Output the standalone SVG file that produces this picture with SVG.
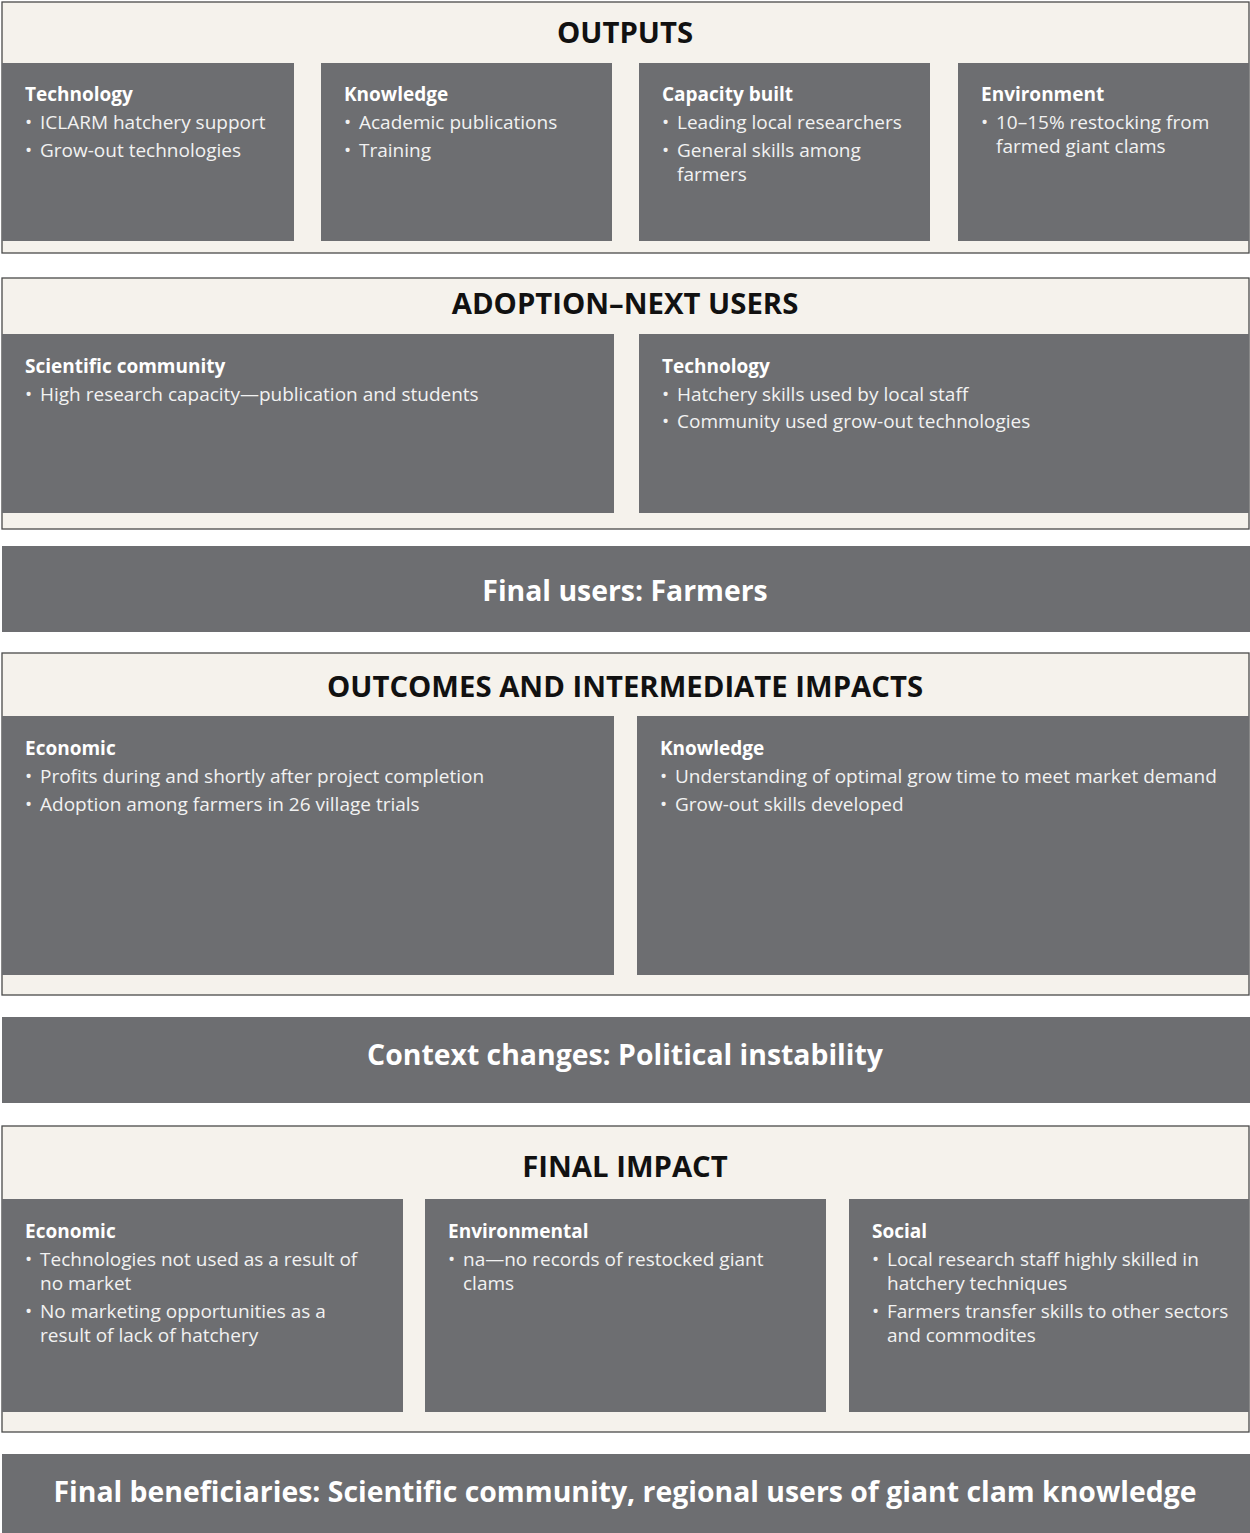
<svg xmlns="http://www.w3.org/2000/svg" width="1250" height="1533" viewBox="0 0 1250 1533">
<style>
.frame{fill:#f5f2ec;stroke:#4a4a4a;stroke-width:1.3}
.box{fill:#6d6e71}
.title{font-family:"Open Sans","Liberation Sans",sans-serif;font-weight:700;font-size:29.3px;fill:#111;text-anchor:middle}
.bar{font-family:"Open Sans","Liberation Sans",sans-serif;font-weight:700;font-size:28.4px;fill:#fff;text-anchor:middle}
.h{font-family:"Open Sans","Liberation Sans",sans-serif;font-weight:700;font-size:19px;fill:#fff}
.t{font-family:"Open Sans","Liberation Sans",sans-serif;font-size:19px;fill:#f2f2f2}
</style>
<rect width="1250" height="1533" fill="#fff"/>

<g id="outputs">
<rect class="frame" x="2" y="2" width="1247" height="251"/>
<text class="title" x="625" y="43">OUTPUTS</text>
<g id="out-tech">
<rect class="box" x="2" y="63" width="292" height="178"/>
<text class="h" x="25" y="101">Technology</text>
<text class="t" x="25" y="129">•</text><text class="t" x="40" y="129">ICLARM hatchery support</text>
<text class="t" x="25" y="157">•</text><text class="t" x="40" y="157">Grow-out technologies</text>
</g>
<g id="out-know">
<rect class="box" x="321" y="63" width="291" height="178"/>
<text class="h" x="344" y="101">Knowledge</text>
<text class="t" x="344" y="129">•</text><text class="t" x="359" y="129">Academic publications</text>
<text class="t" x="344" y="157">•</text><text class="t" x="359" y="157">Training</text>
</g>
<g id="out-cap">
<rect class="box" x="639" y="63" width="291" height="178"/>
<text class="h" x="662" y="101">Capacity built</text>
<text class="t" x="662" y="129">•</text><text class="t" x="677" y="129">Leading local researchers</text>
<text class="t" x="662" y="157">•</text><text class="t" x="677" y="157">General skills among</text>
<text class="t" x="677" y="181">farmers</text>
</g>
<g id="out-env">
<rect class="box" x="958" y="63" width="291" height="178"/>
<text class="h" x="981" y="101">Environment</text>
<text class="t" x="981" y="129">•</text><text class="t" x="996" y="129">10–15% restocking from</text>
<text class="t" x="996" y="153">farmed giant clams</text>
</g>
</g>

<g id="adoption">
<rect class="frame" x="2" y="278" width="1247" height="251"/>
<text class="title" x="625" y="314">ADOPTION–NEXT USERS</text>
<g id="adopt-sci">
<rect class="box" x="2" y="334" width="612" height="179"/>
<text class="h" x="25" y="373">Scientific community</text>
<text class="t" x="25" y="401">•</text><text class="t" x="40" y="401">High research capacity—publication and students</text>
</g>
<g id="adopt-tech">
<rect class="box" x="639" y="334" width="610" height="179"/>
<text class="h" x="662" y="373">Technology</text>
<text class="t" x="662" y="401">•</text><text class="t" x="677" y="401">Hatchery skills used by local staff</text>
<text class="t" x="662" y="428">•</text><text class="t" x="677" y="428">Community used grow-out technologies</text>
</g>
</g>

<g id="final-users">
<rect class="box" x="2" y="546" width="1248" height="86"/>
<text class="bar" x="625" y="601">Final users: Farmers</text>
</g>

<g id="outcomes">
<rect class="frame" x="2" y="653" width="1247" height="342"/>
<text class="title" x="625" y="697">OUTCOMES AND INTERMEDIATE IMPACTS</text>
<g id="outc-econ">
<rect class="box" x="2" y="716" width="612" height="259"/>
<text class="h" x="25" y="755">Economic</text>
<text class="t" x="25" y="783">•</text><text class="t" x="40" y="783">Profits during and shortly after project completion</text>
<text class="t" x="25" y="811">•</text><text class="t" x="40" y="811">Adoption among farmers in 26 village trials</text>
</g>
<g id="outc-know">
<rect class="box" x="637" y="716" width="612" height="259"/>
<text class="h" x="660" y="755">Knowledge</text>
<text class="t" x="660" y="783">•</text><text class="t" x="675" y="783">Understanding of optimal grow time to meet market demand</text>
<text class="t" x="660" y="811">•</text><text class="t" x="675" y="811">Grow-out skills developed</text>
</g>
</g>

<g id="context">
<rect class="box" x="2" y="1017" width="1248" height="86"/>
<text class="bar" x="625" y="1065">Context changes: Political instability</text>
</g>

<g id="final-impact">
<rect class="frame" x="2" y="1126" width="1247" height="306"/>
<text class="title" x="625" y="1177">FINAL IMPACT</text>
<g id="fi-econ">
<rect class="box" x="2" y="1199" width="401" height="213"/>
<text class="h" x="25" y="1238">Economic</text>
<text class="t" x="25" y="1266">•</text><text class="t" x="40" y="1266">Technologies not used as a result of</text>
<text class="t" x="40" y="1290">no market</text>
<text class="t" x="25" y="1318">•</text><text class="t" x="40" y="1318">No marketing opportunities as a</text>
<text class="t" x="40" y="1342">result of lack of hatchery</text>
</g>
<g id="fi-env">
<rect class="box" x="425" y="1199" width="401" height="213"/>
<text class="h" x="448" y="1238">Environmental</text>
<text class="t" x="448" y="1266">•</text><text class="t" x="463" y="1266">na—no records of restocked giant</text>
<text class="t" x="463" y="1290">clams</text>
</g>
<g id="fi-soc">
<rect class="box" x="849" y="1199" width="400" height="213"/>
<text class="h" x="872" y="1238">Social</text>
<text class="t" x="872" y="1266">•</text><text class="t" x="887" y="1266">Local research staff highly skilled in</text>
<text class="t" x="887" y="1290">hatchery techniques</text>
<text class="t" x="872" y="1318">•</text><text class="t" x="887" y="1318">Farmers transfer skills to other sectors</text>
<text class="t" x="887" y="1342">and commodites</text>
</g>
</g>

<g id="final-beneficiaries">
<rect class="box" x="2" y="1454" width="1248" height="79"/>
<text class="bar" x="625" y="1502">Final beneficiaries: Scientific community, regional users of giant clam knowledge</text>
</g>

<g id="connectors"></g>
</svg>
